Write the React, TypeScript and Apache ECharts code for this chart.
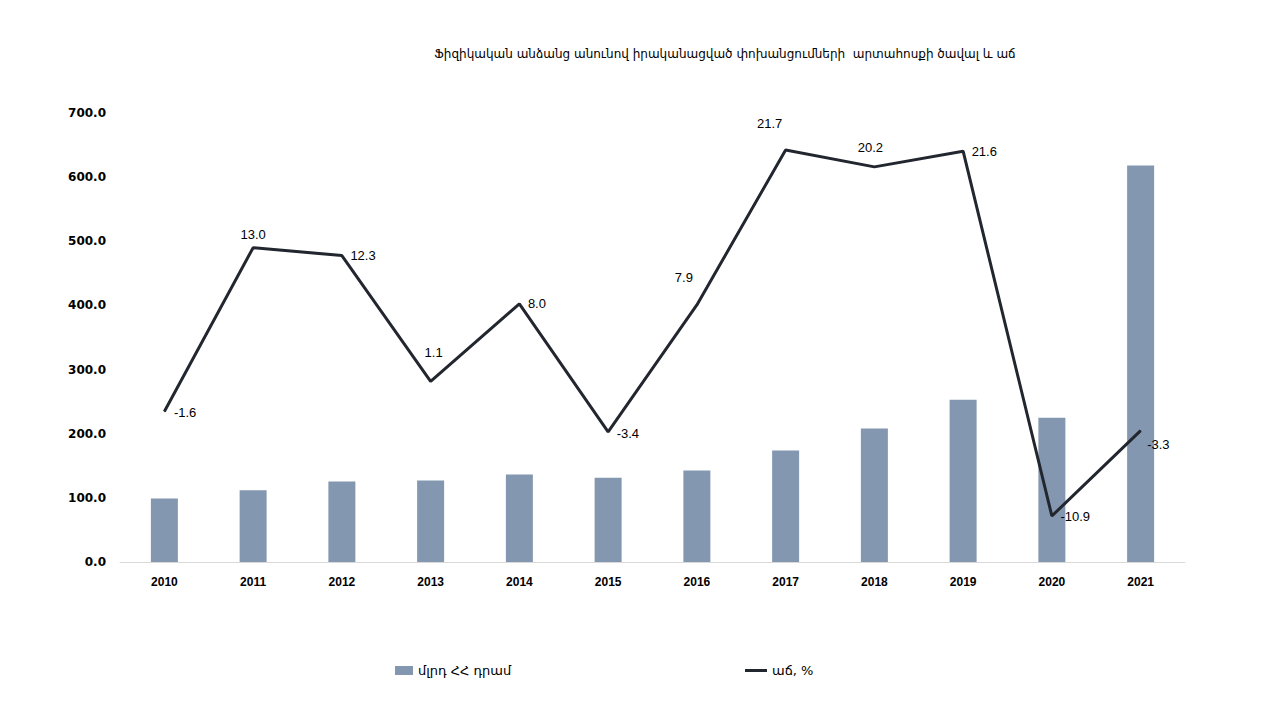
import React, { useEffect, useRef } from "react";
import * as echarts from "echarts";

const titleText = "Ֆիզիկական անձանց անունով իրականացված փոխանցումների  արտահոսքի ծավալ և աճ";
const barName = "մլրդ ՀՀ դրամ";
const lineName = "աճ, %";
const years = ["2010", "2011", "2012", "2013", "2014", "2015", "2016", "2017", "2018", "2019", "2020", "2021"];
const volume = [99, 112, 125.5, 127, 136.5, 131.5, 142.5, 174, 208, 253, 225, 618];
const growth = [-1.6, 13.0, 12.3, 1.1, 8.0, -3.4, 7.9, 21.7, 20.2, 21.6, -10.9, -3.3];
const leftTicks = [0, 700, 100];
// label placement per point: [position, dx, dy]
const labelPlace: [string, number, number][] = [
  ["right", 3, 1],
  ["top", 0, 0],
  ["right", 2, 0],
  ["top", 3, -16],
  ["right", 2, 0],
  ["right", 2, 2],
  ["top", -13, -14],
  ["top", -16, -14],
  ["top", -4, -6],
  ["right", 2, 0],
  ["right", 2, 1],
  ["right", 0, 14],
];

export default function App() {
  const ref = useRef<HTMLDivElement>(null);
  useEffect(() => {
    const chart = echarts.init(ref.current!, null, { renderer: "svg" });
    const lineData = growth.map((v, i) => ({
      value: v,
      label: {
        show: true,
        position: labelPlace[i][0] as any,
        offset: [labelPlace[i][1], labelPlace[i][2]],
        distance: 6,
        formatter: (p: any) => Number(p.value).toFixed(1),
        color: "#000",
        fontSize: 13,
        fontFamily: "Liberation Sans, Arial, sans-serif",
      },
    }));
    chart.setOption({
      animation: false,
      backgroundColor: "#fff",
      title: {
        text: titleText,
        left: 720,
        textAlign: "center",
        top: 43,
        textStyle: { fontSize: 12, fontWeight: "normal", color: "#000", fontFamily: "DejaVu Sans, sans-serif" },
      },
      legend: [
        {
          data: [barName],
          left: 390,
          top: 659,
          itemWidth: 18,
          itemHeight: 9,
          icon: "rect",
          textStyle: { fontSize: 13, color: "#000", fontFamily: "DejaVu Sans, sans-serif" },
        },
        {
          data: [{ name: lineName, icon: "path://M0,0 L22,0 L22,3 L0,3 Z" }],
          left: 740,
          top: 659,
          itemWidth: 22,
          itemHeight: 3,
          textStyle: { fontSize: 13, color: "#000", fontFamily: "DejaVu Sans, sans-serif" },
        },
      ],
      grid: { left: 120, right: 95, top: 113, bottom: 158, containLabel: false },
      xAxis: {
        type: "category",
        data: years,
        axisLine: { show: true, lineStyle: { color: "#d9d9d9", width: 1 } },
        axisTick: { show: false },
        axisLabel: { color: "#000", fontSize: 12, fontWeight: "bold", margin: 14, fontFamily: "Liberation Sans, Arial, sans-serif" },
      },
      yAxis: [
        {
          type: "value",
          min: leftTicks[0],
          max: leftTicks[1],
          interval: leftTicks[2],
          splitLine: { show: false },
          axisLine: { show: false },
          axisTick: { show: false },
          axisLabel: {
            formatter: (v: number) => v.toFixed(1),
            color: "#000",
            fontSize: 12,
            fontWeight: "bold",
            margin: 14,
            fontFamily: "DejaVu Sans, sans-serif",
          },
        },
        {
          type: "value",
          min: -15,
          max: 25,
          show: false,
          splitLine: { show: false },
        },
      ],
      series: [
        {
          name: barName,
          type: "bar",
          data: volume,
          barWidth: 27,
          itemStyle: { color: "#8497b0" },
          yAxisIndex: 0,
        },
        {
          name: lineName,
          type: "line",
          data: lineData,
          yAxisIndex: 1,
          symbol: "circle",
          symbolSize: 1,
          showSymbol: true,
          lineStyle: { color: "#22262e", width: 3 },
          itemStyle: { color: "#22262e" },
        },
      ],
    });
    return () => chart.dispose();
  }, []);
  return <div ref={ref} style={{ width: 1280, height: 720, position: "absolute", left: 0, top: 0 }} />;
}
